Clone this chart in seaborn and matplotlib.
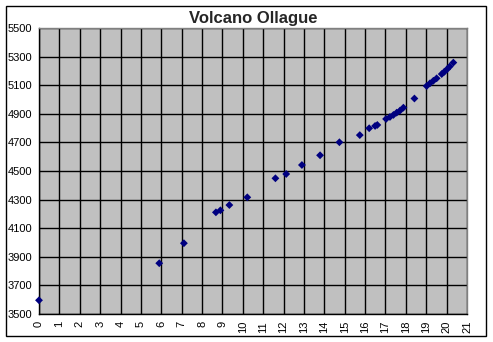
import matplotlib
matplotlib.use("Agg")
import matplotlib.pyplot as plt
import seaborn as sns
import pandas as pd
from matplotlib.patches import Rectangle

title = "Volcano Ollague"
x_vals = [0.0, 5.90, 7.11, 8.68, 8.90, 9.34, 10.22, 11.60, 12.13, 12.90, 13.79,
          14.74, 15.74, 16.20, 16.49, 16.60, 17.03, 17.22, 17.39, 17.55, 17.71,
          17.88, 18.42, 19.02, 19.18, 19.35, 19.51, 19.76, 19.89, 20.02, 20.15, 20.33]
y_vals = [3596, 3855, 3995, 4211, 4225, 4262, 4316, 4449, 4479, 4542, 4610,
          4701, 4751, 4799, 4815, 4822, 4864, 4878, 4892, 4908, 4922,
          4943, 5007, 5094, 5113, 5131, 5148, 5178, 5194, 5211, 5230, 5258]
x_ticks = list(range(0, 22))
y_ticks = list(range(3500, 5501, 200))

df = pd.DataFrame({"x": x_vals, "y": y_vals})

sns.set_style("white")
plt.rcParams["font.family"] = ["Liberation Sans", "DejaVu Sans"]

fig = plt.figure(figsize=(4.93, 3.42), dpi=100)
fig.patch.set_facecolor("white")
ax = fig.add_axes([39/493, 1-314/342, (467-39)/493, (314-28)/342])
ax.set_facecolor("#C0C0C0")

sns.scatterplot(data=df, x="x", y="y", marker="D", s=16, color="#000080",
                edgecolor="none", linewidth=0, ax=ax, zorder=3, clip_on=False)

ax.set_xlim(0, 21)
ax.set_ylim(3500, 5500)
ax.set_xticks(x_ticks)
ax.set_yticks(y_ticks)
ax.set_xticklabels([str(t) for t in x_ticks], rotation=90, fontsize=8)
ax.set_yticklabels([str(t) for t in y_ticks], fontsize=8)
ax.grid(True, color="black", linewidth=1)
ax.set_axisbelow(True)
for sp in ax.spines.values():
    sp.set_color("#808080")
    sp.set_linewidth(1)
ax.spines["left"].set_color("black")
ax.spines["bottom"].set_color("black")
ax.tick_params(axis="both", direction="out", length=3, width=1, color="black",
               pad=2, labelcolor="black")
ax.set_xlabel("")
ax.set_ylabel("")

fig.text(253/493, 1-18/342, title, ha="center", va="center",
         fontsize=12, fontweight="bold")

fig.patches.append(Rectangle((5.5/493, 1-335.5/342), 480/493, 330/342,
                             transform=fig.transFigure, fill=False,
                             edgecolor="black", linewidth=1))

fig.savefig("out.png", dpi=100)
